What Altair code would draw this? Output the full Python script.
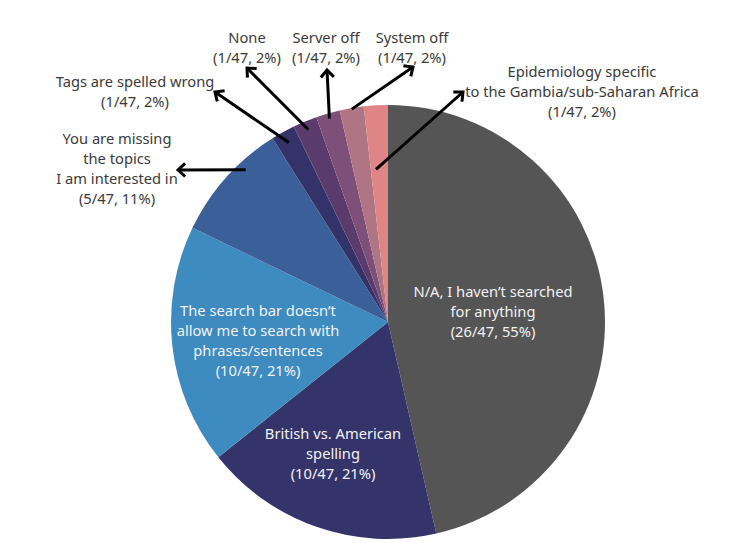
import altair as alt
import pandas as pd
import numpy as np

# ---- data ----
categories = [
    "N/A, I haven't searched for anything",
    "British vs. American spelling",
    "The search bar doesn't allow me to search with phrases/sentences",
    "You are missing the topics I am interested in",
    "Tags are spelled wrong",
    "None",
    "Server off",
    "System off",
    "Epidemiology specific to the Gambia/sub-Saharan Africa",
]
counts = [26, 10, 10, 5, 1, 1, 1, 1, 1]
respondents = 47
colors = ["#555555", "#35346a", "#3d8bbf", "#3a5f99", "#33336a",
          "#5b3b6b", "#7e5079", "#b07585", "#e08585"]

# label text lines
label_lines = [
    ["N/A, I haven\u2019t searched", "for anything"],
    ["British vs. American", "spelling"],
    ["The search bar doesn\u2019t", "allow me to search with", "phrases/sentences"],
    ["You are missing", "the topics", "I am interested in"],
    ["Tags are spelled wrong"],
    ["None"],
    ["Server off"],
    ["System off"],
    ["Epidemiology specific", "to the Gambia/sub-Saharan Africa"],
]
inside = [True, True, True, False, False, False, False, False, False]
label_x = [493, 333, 258, 117, 135, 247, 326, 412, 582]
label_y = [293, 435, 312, 140, 83, 39, 39, 39, 73]

# arrows: tip positions, start radius (fraction of pie radius), position within slice
arrow_tip_x = [None, None, None, 178, 215, 247, 327, 413, 463]
arrow_tip_y = [None, None, None, 170, 92, 68, 70, 67, 92]
arrow_r_frac = [None, None, None, 0.96, 0.945, 0.96, 0.975, 0.995, 0.705]
arrow_slice_pos = [None, None, None, 0.66, 0.5, 0.5, 0.5, 0.5, 0.3]

# ---- geometry of pie ----
CX, CY, R = 388, 322, 217
W, H = 750, 554
LH = 20

total = sum(counts)
cum = np.cumsum([0] + counts[:-1])

pie_df = pd.DataFrame({"cat": categories, "count": counts, "idx": range(len(counts))})

# text rows
rows = []
for i, lines in enumerate(label_lines):
    pct = round(counts[i] / respondents * 100)
    full = lines + [f"({counts[i]}/{respondents}, {pct}%)"]
    for j, ln in enumerate(full):
        rows.append({"text": ln, "x": label_x[i], "y": label_y[i] + j * LH,
                     "inside": inside[i]})
text_df = pd.DataFrame(rows)

arrow_rows = []
for i in range(len(categories)):
    if arrow_tip_x[i] is None:
        continue
    a = (cum[i] + counts[i] * arrow_slice_pos[i]) / total * 2 * np.pi
    r = arrow_r_frac[i] * R
    sx = CX + r * np.sin(a)
    sy = CY - r * np.cos(a)
    tx, ty = arrow_tip_x[i], arrow_tip_y[i]
    ang = np.degrees(np.arctan2(tx - sx, -(ty - sy))) % 360
    arrow_rows.append({"sx": sx, "sy": sy, "tx": tx, "ty": ty, "ang": ang})
arrow_df = pd.DataFrame(arrow_rows)

xs = alt.Scale(domain=[0, W], range=[0, W])
ys = alt.Scale(domain=[0, H], range=[0, H])

pie = alt.Chart(pie_df).mark_arc(outerRadius=R).encode(
    theta=alt.Theta("count:Q", stack=True),
    order=alt.Order("idx:Q"),
    color=alt.Color("cat:N", scale=alt.Scale(domain=categories, range=colors), legend=None),
    x=alt.value(CX),
    y=alt.value(CY),
)

FONT = "Noto Sans"
FS = 14.7

txt_out = alt.Chart(text_df).transform_filter("!datum.inside").mark_text(
    font=FONT, fontSize=FS, color="#3a3a3a", baseline="middle", align="center"
).encode(
    x=alt.X("x:Q", scale=xs, axis=None),
    y=alt.Y("y:Q", scale=ys, axis=None),
    text="text:N",
)
txt_in = alt.Chart(text_df).transform_filter("datum.inside").mark_text(
    font=FONT, fontSize=FS, color="#f2f2f2", baseline="middle", align="center"
).encode(
    x=alt.X("x:Q", scale=xs, axis=None),
    y=alt.Y("y:Q", scale=ys, axis=None),
    text="text:N",
)

shafts = alt.Chart(arrow_df).mark_rule(color="black", strokeWidth=3).encode(
    x=alt.X("sx:Q", scale=xs, axis=None),
    y=alt.Y("sy:Q", scale=ys, axis=None),
    x2="tx:Q",
    y2="ty:Q",
)
heads = alt.Chart(arrow_df).mark_point(
    shape="M -1 1.1 L 0 0 L 1 1.1", filled=False, color="black", strokeWidth=3,
    size=170, opacity=1, strokeJoin="miter", strokeCap="butt"
).encode(
    x=alt.X("tx:Q", scale=xs, axis=None),
    y=alt.Y("ty:Q", scale=ys, axis=None),
    angle=alt.Angle("ang:Q", scale=None),
)

chart = alt.layer(pie, shafts, heads, txt_out, txt_in).properties(
    width=W, height=H, autosize=alt.AutoSizeParams(type="none"), padding=0,
    background="white"
).configure_view(stroke=None)

chart.save("out.html", embed_options={"renderer": "svg", "actions": False})
